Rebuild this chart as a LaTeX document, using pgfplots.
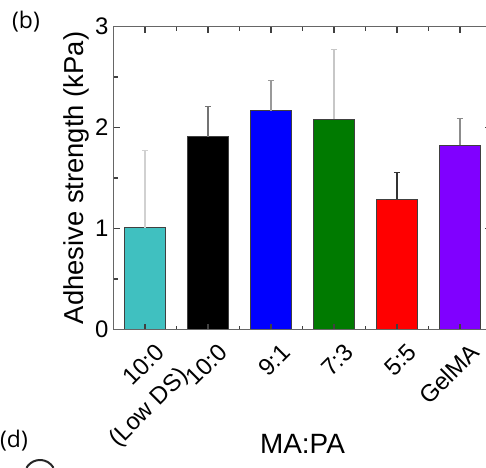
\documentclass[border=0pt]{standalone}
\usepackage{fontspec}
\setmainfont{Liberation Sans}
\newfontfamily\panelfont{Open Sans}
\usepackage{pgfplots}
\pgfplotsset{compat=1.18}

\definecolor{cteal}{HTML}{40C0C0}
\definecolor{cblue}{HTML}{0000FF}
\definecolor{cgreen}{HTML}{007A00}
\definecolor{cred}{HTML}{FF0000}
\definecolor{cviolet}{HTML}{8000FF}
\definecolor{barline}{HTML}{404040}

\begin{document}
\begin{tikzpicture}
\begin{axis}[
    at={(0,0)}, anchor=south west,
    scale only axis,
    width=378bp, height=303bp,
    xmin=-0.5, xmax=5.5,
    ymin=0, ymax=3,
    xtick={0,1,2,3,4,5},
    xticklabels={{10:0\llap{\smash{\raisebox{-33bp}{(Low DS)}}}}, 10:0, 9:1, 7:3, 5:5, GelMA},
    ytick={0,1,2,3},
    minor x tick num=1,
    minor y tick num=1,
    tick align=inside,
    major tick length=6bp,
    minor tick length=4bp,
    every tick/.style={black!75, line width=1.2bp},
    axis line style={draw=black!60, line width=1.5bp},
    axis on top,
    bar width=41bp,
    /pgf/number format/assume math mode=true,
    ticklabel style={font=\fontsize{24}{28}\selectfont},
    yticklabel style={anchor=east, inner sep=0pt},
    yticklabel shift=5bp,
    xticklabel style={xshift=15bp, yshift=-18.5bp, rotate=45, anchor=east, inner sep=0pt},
    xlabel={MA:PA},
    ylabel={Adhesive strength (kPa)},
    xlabel style={font=\fontsize{28}{32}\selectfont, at={(rel axis cs:0.5,0)}, anchor=center, yshift=-114.5bp},
    ylabel style={font=\fontsize{27.5}{31}\selectfont, at={(axis description cs:-0.0992,0.5)}, anchor=center},
]

% 10:0 (Low DS)
\addplot[ybar, fill=cteal, draw=barline, line width=0.8bp,
    error bars/.cd, y dir=plus, y explicit,
    error bar style={black!18, line width=1.2bp},
    error mark options={rotate=90, mark size=3bp, black!18, line width=1.2bp}]
    coordinates {(0,1.009) +- (0,0.760)};

% 10:0
\addplot[ybar, fill=black, draw=barline, line width=0.8bp,
    error bars/.cd, y dir=plus, y explicit,
    error bar style={black!55, line width=1.2bp},
    error mark options={rotate=90, mark size=3bp, black!55, line width=1.2bp}]
    coordinates {(1,1.908) +- (0,0.300)};

% 9:1
\addplot[ybar, fill=cblue, draw=barline, line width=0.8bp,
    error bars/.cd, y dir=plus, y explicit,
    error bar style={black!40, line width=1.2bp},
    error mark options={rotate=90, mark size=3bp, black!40, line width=1.2bp}]
    coordinates {(2,2.166) +- (0,0.300)};

% 7:3
\addplot[ybar, fill=cgreen, draw=barline, line width=0.8bp,
    error bars/.cd, y dir=plus, y explicit,
    error bar style={black!22, line width=1.2bp},
    error mark options={rotate=90, mark size=3bp, black!22, line width=1.2bp}]
    coordinates {(3,2.083) +- (0,0.687)};

% 5:5
\addplot[ybar, fill=cred, draw=barline, line width=0.8bp,
    error bars/.cd, y dir=plus, y explicit,
    error bar style={black!80, line width=1.2bp},
    error mark options={rotate=90, mark size=3bp, black!80, line width=1.2bp}]
    coordinates {(4,1.293) +- (0,0.261)};

% GelMA
\addplot[ybar, fill=cviolet, draw=barline, line width=0.8bp,
    error bars/.cd, y dir=plus, y explicit,
    error bar style={black!45, line width=1.2bp},
    error mark options={rotate=90, mark size=3bp, black!45, line width=1.2bp}]
    coordinates {(5,1.822) +- (0,0.264)};

\end{axis}

% panel letters
\node[font=\panelfont\fontsize{23}{27}\selectfont] at (-87.5bp,307.5bp) {(b)};
\node[font=\panelfont\fontsize{23}{27}\selectfont] at (-99.5bp,-111.5bp) {(d)};
\draw[line width=2bp, black!85] (-87bp,-138.3bp) arc[start angle=150, end angle=30, radius=15.6bp];

\pgfresetboundingbox
\path[use as bounding box] (-113.5bp,-138.5bp) rectangle (372.5bp,329.5bp);
\end{tikzpicture}
\end{document}
